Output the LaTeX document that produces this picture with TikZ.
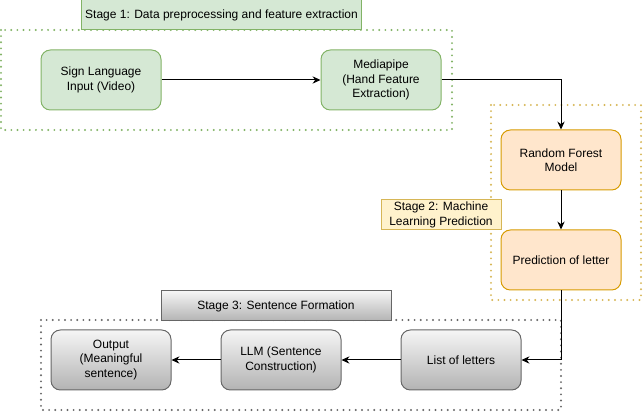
\documentclass[tikz,border=0pt]{standalone}
\usepackage{fontspec}
\setmainfont{Liberation Sans}
\usetikzlibrary{arrows.meta}
\definecolor{gfill}{HTML}{D5E8D4}
\definecolor{gline}{HTML}{82B366}
\definecolor{ofill}{HTML}{FFE6CC}
\definecolor{oline}{HTML}{D79B00}
\definecolor{yfill}{HTML}{FFF2CC}
\definecolor{yline}{HTML}{D6B656}
\definecolor{grtop}{HTML}{F5F5F5}
\definecolor{grbot}{HTML}{B3B3B3}
\definecolor{grline}{HTML}{666666}
\begin{document}
\begin{tikzpicture}[x=0.75pt,y=-0.75pt,
  every node/.style={font=\fontsize{9pt}{10.8pt}\selectfont, align=center, inner sep=0pt},
  procbox/.style={draw, line width=0.75pt, rounded corners=7pt, minimum width=90pt, minimum height=45pt},
  greenbox/.style={procbox, fill=gfill, draw=gline},
  orangebox/.style={procbox, fill=ofill, draw=oline},
  graybox/.style={procbox, top color=grtop, bottom color=grbot, draw=grline},
  stagelabel/.style={draw, line width=0.75pt, minimum height=22.5pt},
  dotbox/.style={line width=1.6pt, line cap=round, dash pattern=on 0pt off 4.6pt},
  conn/.style={line width=0.75pt, -{Stealth[length=6pt,width=5.5pt,inset=2pt]}}
]
\useasboundingbox (0,0) rectangle (643,413);
% stage containers
\draw[dotbox, draw=gline] (1,30) rectangle (452,130);
\draw[dotbox, draw=yline] (491,105) rectangle (641,300);
\draw[dotbox, draw=grline] (41,320) rectangle (561,410);
% stage labels
\node[stagelabel, fill=gfill, draw=gline, minimum width=210pt] (s1) at (221.5,15) {Stage 1: Data preprocessing and feature extraction};
\node[stagelabel, fill=yfill, draw=yline, minimum width=90pt] (s2) at (441,215) {Stage 2: Machine\\Learning Prediction};
\node[stagelabel, top color=grtop, bottom color=grbot, draw=grline, minimum width=172.5pt] (s3) at (276,306) {Stage 3: Sentence Formation};
% process nodes
\node[greenbox] (sign) at (101,80) {Sign Language\\Input (Video)};
\node[greenbox] (mp) at (381,80) {Mediapipe\\(Hand Feature\\Extraction)};
\node[orangebox] (rf) at (561,160) {Random Forest\\Model};
\node[orangebox] (pred) at (561,260) {Prediction of letter};
\node[graybox] (list) at (461,360) {List of letters};
\node[graybox] (llm) at (281,360) {LLM (Sentence\\Construction)};
\node[graybox] (out) at (111,360) {Output\\(Meaningful\\sentence)};
% connectors
\draw[conn] (sign) -- (mp);
\draw[conn] (mp.east) -| (rf.north);
\draw[conn] (rf) -- (pred);
\draw[conn] (pred.south) |- (list.east);
\draw[conn] (list) -- (llm);
\draw[conn] (llm) -- (out);
\end{tikzpicture}
\end{document}
